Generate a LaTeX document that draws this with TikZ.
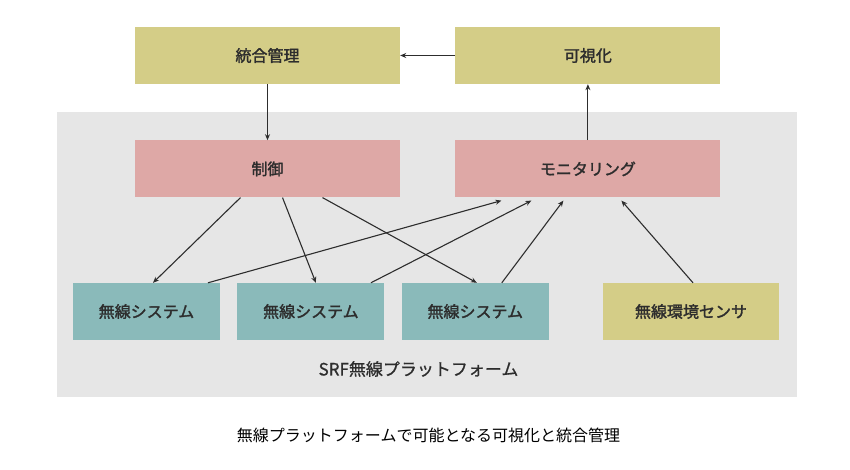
\documentclass[tikz,border=0pt]{standalone}
\usepackage{fontspec}
\usetikzlibrary{arrows.meta,positioning}
\newfontfamily\jpfont{Noto Sans CJK JP}
\newfontfamily\jpmedium{Noto Sans CJK JP}[FakeBold=0.9]
\newfontfamily\jpbold{Noto Sans CJK JP}[FakeBold=1.8]
\definecolor{boxolive}{RGB}{212,205,135}
\definecolor{boxpink}{RGB}{222,168,166}
\definecolor{boxteal}{RGB}{138,186,186}
\definecolor{bggray}{RGB}{230,230,230}
\definecolor{txtdark}{RGB}{45,45,45}

\begin{document}
\begin{tikzpicture}[
      x=1pt, y=-1pt,
      box_top/.style={
         rectangle,
         fill=boxolive,
         inner sep=0pt,
         minimum width=265pt,
         minimum height=57pt,
         text=txtdark,
         font=\jpbold\fontsize{16}{18}\selectfont},
      box_ctrl/.style={
         box_top,
         fill=boxpink},
      box_sys/.style={
         box_top,
         fill=boxteal,
         minimum width=147pt},
      box_sensor/.style={
         box_top,
         minimum width=176pt},
      arrow_black/.style={
         -{Stealth[length=6pt,width=5pt]},
         line width=1.1pt,
         draw=txtdark}
]
      \useasboundingbox (0,0) rectangle (850,470);
      %platform background
      \fill[bggray] (57,112) rectangle (797,397);

      %top row
      \node[box_top] (kanri) at (267.5,55.5) {統合管理};
      \node[box_top,right=55pt of kanri] (kashika) {可視化};

      %middle row
      \node[box_ctrl,below=56pt of kanri] (seigyo) {制御};
      \node[box_ctrl,below=56pt of kashika] (monitor) {モニタリング};

      %bottom row
      \node[box_sys] (sys1) at (146.5,311.5) {無線システム};
      \node[box_sys,right=17pt of sys1] (sys2) {無線システム};
      \node[box_sys,right=17pt of sys2] (sys3) {無線システム};
      \node[box_sensor] (sensor) at (691,311.5) {無線環境センサ};

      \node[text=txtdark,font=\jpmedium\fontsize{17}{19}\selectfont] (srf) at (418.5,369) {SRF無線プラットフォーム};
      \node[text=black,font=\jpfont\fontsize{16}{18}\selectfont] (caption) at (428.5,435) {無線プラットフォームで可能となる可視化と統合管理};

      \draw[arrow_black] (kashika) -- (kanri);
      \draw[arrow_black] (kanri) -- (seigyo);
      \draw[arrow_black] (monitor) -- (kashika);

    \foreach \i/\si/\j/\sj in {% from control / shift / to system / shift
      seigyo/-27/sys1/6.5,
      seigyo/15/sys2/5,
      seigyo/55/sys3/1.5}
      \draw[arrow_black] ([xshift=\si pt]\i.south) -- ([xshift=\sj pt]\j.north);

    \foreach \i/\si/\j/\sj in {% from system / shift / to monitoring / shift
      sys1/61.5/monitor/-86.5,
      sys2/60/monitor/-56.5,
      sys3/26.5/monitor/-24.5,
      sensor/2/monitor/33.5}
      \draw[arrow_black] ([xshift=\si pt]\i.north) -- ([xshift=\sj pt,yshift=-3pt]\j.south);
\end{tikzpicture}
\end{document}
